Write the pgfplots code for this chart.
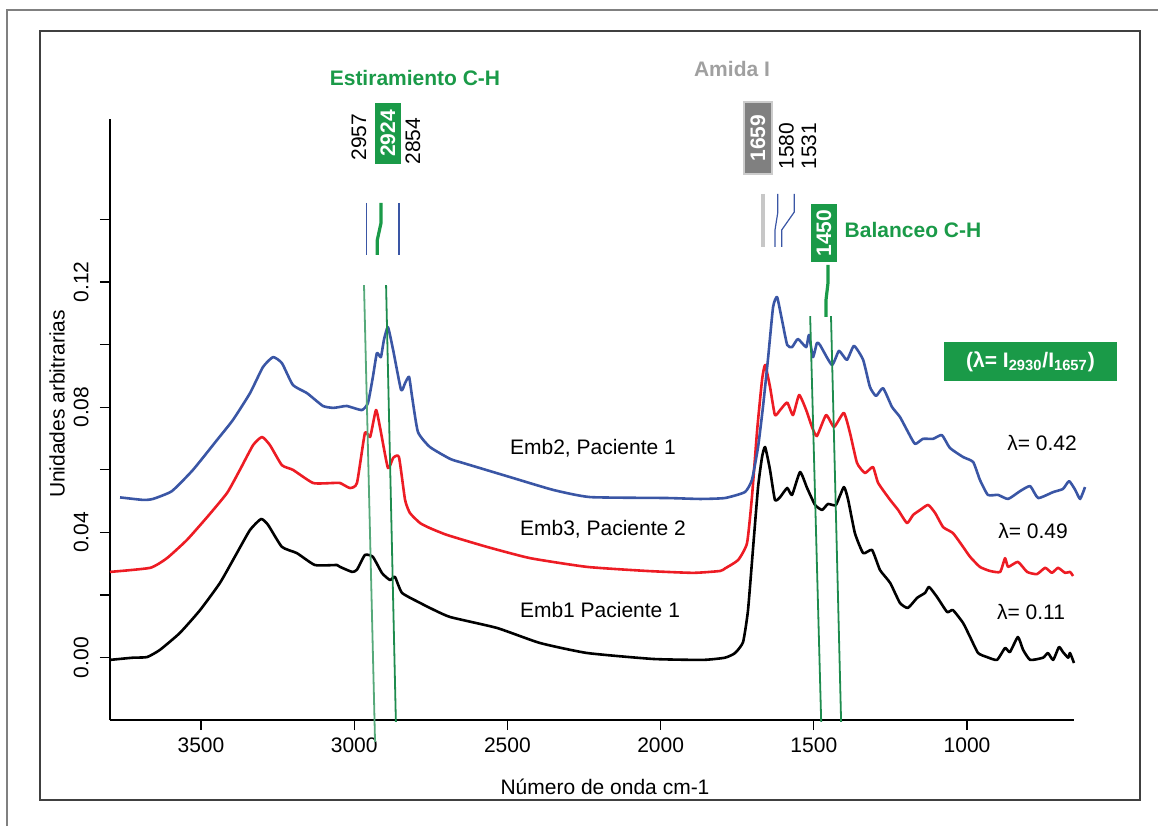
\documentclass[border=0pt]{standalone}
\usepackage{pgfplots}
\pgfplotsset{compat=1.18}
\usepackage{fontspec}
\setmainfont{Liberation Sans}
\definecolor{cblue}{RGB}{58,86,165}
\definecolor{cred}{RGB}{237,28,36}
\definecolor{cgreen}{RGB}{26,154,72}
\definecolor{lgreen}{RGB}{30,140,78}
\definecolor{cgray}{RGB}{160,160,160}
\definecolor{boxgray}{RGB}{128,128,128}
\begin{document}
\fontsize{10.5}{12.6}\selectfont
\begin{tikzpicture}
\begin{axis}[
  at={(0,0)}, anchor=south west,
  scale only axis, width=482pt, height=300.5pt,
  xmin=651, xmax=3797, ymin=-0.0199, ymax=0.17206,
  x dir=reverse,
  axis x line*=bottom, axis y line*=left,
  axis line style={line width=1pt, -},
  xtick={1000,1500,2000,2500,3000,3500},
  ytick={0,0.04,0.08,0.12},
  minor ytick={0.02,0.06,0.10,0.14},
  scaled y ticks=false, scaled x ticks=false,
  tick align=outside,
  major tick length=5pt, minor tick length=5pt,
  tick style={black, line width=0.6pt},
  xticklabel style={/pgf/number format/set thousands separator={}},
  yticklabel style={xshift=-2pt, rotate=90, anchor=south, /pgf/number format/fixed, /pgf/number format/fixed zerofill, /pgf/number format/precision=2},
  /pgf/number format/assume math mode=true,
  clip=false,
  every axis plot/.append style={line width=1.3pt, line join=round, smooth, tension=0.3},
]
% Emb1 Paciente 1 (black)
\addplot[black] coordinates {(3797,-0.0007)(3722,0.0000)(3676,0.0002)(3634,0.0025)(3569,0.0079)(3503,0.0152)(3438,0.0239)(3383,0.0334)(3340,0.0408)(3304,0.0443)(3281,0.0424)(3236,0.0354)(3187,0.0334)(3128,0.0296)(3056,0.0296)(3046,0.0290)(3007,0.0274)(2991,0.0281)(2965,0.0328)(2939,0.0322)(2909,0.0270)(2883,0.0248)(2867,0.0258)(2844,0.0207)(2785,0.0175)(2753,0.0159)(2687,0.0130)(2534,0.0095)(2394,0.0047)(2240,0.0015)(2025,-0.0004)(1862,-0.0007)(1790,0.0000)(1757,0.0015)(1731,0.0050)(1715,0.0150)(1698,0.0354)(1682,0.0545)(1669,0.0641)(1659,0.0673)(1643,0.0600)(1627,0.0504)(1610,0.0513)(1587,0.0542)(1571,0.0520)(1545,0.0593)(1522,0.0542)(1496,0.0488)(1473,0.0472)(1454,0.0491)(1428,0.0488)(1402,0.0545)(1388,0.0504)(1366,0.0398)(1339,0.0334)(1310,0.0344)(1284,0.0280)(1251,0.0239)(1219,0.0175)(1193,0.0159)(1163,0.0191)(1137,0.0207)(1124,0.0226)(1098,0.0194)(1065,0.0146)(1046,0.0152)(1013,0.0111)(990,0.0066)(964,0.0015)(935,0.0002)(902,-0.0007)(876,0.0031)(860,0.0018)(834,0.0066)(817,0.0025)(794,-0.0007)(752,0.0000)(736,0.0015)(719,-0.0007)(700,0.0034)(687,0.0018)(670,0.0000)(664,0.0015)(651,-0.0017)};
% Emb3 Paciente 2 (red)
\addplot[cred] coordinates {(3797,0.0274)(3666,0.0287)(3611,0.0318)(3546,0.0376)(3480,0.0449)(3415,0.0526)(3373,0.0600)(3330,0.0679)(3301,0.0705)(3275,0.0679)(3236,0.0615)(3200,0.0600)(3134,0.0558)(3069,0.0558)(3046,0.0558)(3014,0.0542)(2991,0.0558)(2965,0.0718)(2948,0.0705)(2929,0.0791)(2916,0.0737)(2890,0.0606)(2873,0.0638)(2854,0.0641)(2834,0.0504)(2818,0.0462)(2785,0.0430)(2753,0.0414)(2697,0.0392)(2567,0.0354)(2426,0.0318)(2240,0.0290)(2044,0.0277)(1894,0.0271)(1806,0.0277)(1790,0.0285)(1747,0.0312)(1718,0.0366)(1702,0.0513)(1685,0.0727)(1669,0.0887)(1659,0.0935)(1643,0.0865)(1627,0.0775)(1610,0.0791)(1587,0.0815)(1568,0.0775)(1548,0.0839)(1525,0.0791)(1506,0.0737)(1490,0.0708)(1460,0.0775)(1434,0.0737)(1402,0.0782)(1382,0.0718)(1359,0.0622)(1333,0.0590)(1307,0.0609)(1290,0.0558)(1251,0.0504)(1225,0.0472)(1196,0.0430)(1176,0.0456)(1153,0.0472)(1127,0.0488)(1104,0.0462)(1078,0.0417)(1046,0.0398)(1013,0.0354)(990,0.0322)(958,0.0290)(925,0.0277)(892,0.0274)(876,0.0318)(866,0.0290)(834,0.0306)(804,0.0274)(772,0.0267)(745,0.0287)(723,0.0271)(703,0.0287)(680,0.0271)(664,0.0274)(654,0.0261)};
% Emb2 Paciente 1 (blue)
\addplot[cblue] coordinates {(3764,0.0512)(3689,0.0504)(3657,0.0507)(3595,0.0532)(3526,0.0600)(3448,0.0695)(3396,0.0759)(3340,0.0845)(3298,0.0928)(3265,0.0960)(3236,0.0941)(3200,0.0871)(3154,0.0845)(3102,0.0804)(3069,0.0798)(3046,0.0801)(3024,0.0804)(2975,0.0791)(2955,0.0814)(2939,0.0897)(2926,0.0973)(2913,0.0960)(2903,0.1015)(2890,0.1056)(2873,0.0983)(2847,0.0855)(2834,0.0877)(2821,0.0897)(2811,0.0833)(2792,0.0721)(2753,0.0673)(2687,0.0635)(2645,0.0622)(2492,0.0577)(2351,0.0536)(2230,0.0513)(1979,0.0510)(1871,0.0507)(1790,0.0510)(1725,0.0529)(1702,0.0568)(1682,0.0673)(1666,0.0801)(1649,0.0960)(1633,0.1120)(1620,0.1152)(1604,0.1079)(1587,0.0999)(1571,0.0992)(1552,0.1018)(1525,0.0992)(1516,0.1031)(1503,0.0960)(1490,0.1005)(1480,0.0999)(1441,0.0935)(1418,0.0980)(1392,0.0951)(1369,0.0996)(1339,0.0951)(1317,0.0865)(1297,0.0836)(1274,0.0861)(1245,0.0801)(1219,0.0769)(1196,0.0727)(1170,0.0683)(1144,0.0699)(1111,0.0699)(1082,0.0711)(1056,0.0670)(1013,0.0641)(980,0.0625)(958,0.0568)(932,0.0520)(899,0.0520)(866,0.0507)(827,0.0532)(794,0.0548)(768,0.0510)(719,0.0529)(687,0.0539)(667,0.0564)(647,0.0536)(631,0.0507)(615,0.0545)};
% guide lines
\draw[lgreen!75, line width=0.9pt] (axis cs:2968,0.1190) -- (axis cs:2932,-0.0269);
\draw[lgreen, line width=0.9pt] (axis cs:2896,0.1190) -- (axis cs:2864,-0.0205);
\draw[lgreen, line width=0.9pt] (axis cs:1512,0.1091) -- (axis cs:1476,-0.0205);
\draw[lgreen, line width=0.9pt] (axis cs:1444,0.1091) -- (axis cs:1411,-0.0205);
\end{axis}
\begin{scope}[x=0.5pt,y=-0.5pt,shift={(-55pt,360pt)}]
\draw[black!50, line width=0.8pt] (7,826) -- (7,10) -- (1158,10);
\draw[black!75, line width=0.8pt] (40,31) rectangle (1140,800);
% labels
\node at (605,787) {Número de onda cm-1};
\node[rotate=90] at (57,404) {Unidades arbitrarias};
\node[text=cgreen, font=\bfseries] at (415,78) {Estiramiento C-H};
\node[rotate=90] at (359,137) {2957};
\node[rotate=90, fill=cgreen, text=white, font=\bfseries, minimum width=30.5pt, minimum height=13pt, inner sep=0pt] at (388,133.5) {2924};
\node[rotate=90] at (413,141) {2854};
\draw[cblue, line width=0.6pt] (366.7,203) -- (366.7,255);
\draw[cblue, line width=0.6pt] (399,203) -- (399,255);
\draw[cgreen, line width=1.6pt] (381,203) -- (381,223) -- (377.3,240) -- (377.3,255);
\node[text=cgray, font=\bfseries] at (732,69) {Amida I};
\node[rotate=90, fill=boxgray, draw=black!20, line width=1pt, text=white, font=\bfseries, minimum width=36pt, minimum height=14pt, inner sep=0pt] at (758,138) {1659};
\node[rotate=90] at (786.5,146) {1580};
\node[rotate=90] at (809,146) {1531};
\draw[black!22, line width=2pt] (763,194) -- (763,247);
\draw[cblue, line width=0.6pt] (777.7,194) -- (777.7,213) -- (775,230) -- (775,247);
\draw[cblue, line width=0.6pt] (794.3,194) -- (794.3,212) -- (781.7,230) -- (781.7,247);
\node[rotate=90, fill=cgreen, text=white, font=\bfseries, minimum width=29pt, minimum height=13pt, inner sep=0pt] at (824,233) {1450};
\draw[cgreen, line width=1.6pt] (828,265) -- (828,283) -- (826,300) -- (826,317);
\node[text=cgreen, font=\bfseries] at (913,230) {Balanceo C-H};
\node[fill=cgreen, text=white, font=\bfseries, minimum width=86.5pt, minimum height=19.5pt, inner sep=0pt] at (1030.5,361.5) {(λ= I\textsubscript{2930}/I\textsubscript{1657})};
\node at (1042,443) {λ= 0.42};
\node at (1033,531) {λ= 0.49};
\node at (1031,612) {λ= 0.11};
\node at (593,448) {Emb2, Paciente 1};
\node at (603,529) {Emb3, Paciente 2};
\node at (600,610) {Emb1 Paciente 1};
\pgfresetboundingbox
\path[use as bounding box] (0,0) rectangle (1158,826);
\end{scope}
\end{tikzpicture}
\end{document}
